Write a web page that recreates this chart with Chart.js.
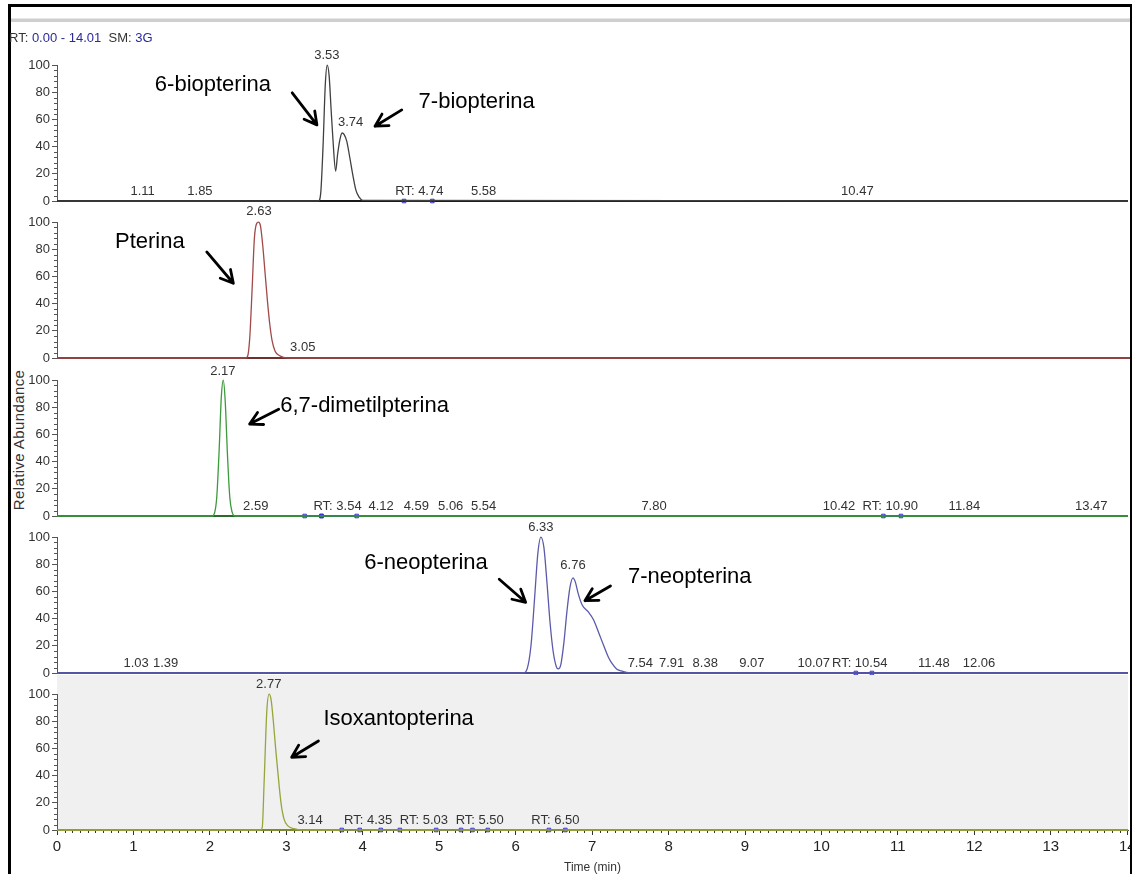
<!DOCTYPE html>
<html>
<head>
<meta charset="utf-8">
<script src="https://cdn.jsdelivr.net/npm/chart.js@4.4.0/dist/chart.umd.min.js"></script>
<style>
html,body{margin:0;padding:0;width:1132px;height:874px;overflow:hidden;background:#fff;position:relative;}
canvas{position:absolute;left:0;}
.frame{position:absolute;background:#000;z-index:20;}
#hdr{position:absolute;left:9px;top:30px;font:13px "Liberation Sans",Arial,sans-serif;color:#333;white-space:nowrap;z-index:21;}
#hdr .b{color:#2a2a9a;}
#ylab{position:absolute;left:18px;top:440px;transform:translate(-50%,-50%) rotate(-90deg);font:15px "Liberation Sans",Arial,sans-serif;letter-spacing:0.4px;color:#333;white-space:nowrap;}
#gline{position:absolute;left:11px;top:18px;width:1121px;height:3px;background:#cfcfcf;border-top:1px solid #e6e6e6;}
</style>
</head>
<body>
<div class="frame" style="left:8px;top:4px;width:1124px;height:3px;"></div>
<div class="frame" style="left:8px;top:4px;width:3px;height:870px;"></div>
<div class="frame" style="left:1130px;top:4px;width:2px;height:870px;"></div>
<div id="gline"></div>
<div id="hdr">RT: <span class="b">0.00 - 14.01</span>&nbsp;&nbsp;SM: <span class="b">3G</span></div>
<div id="ylab">Relative Abundance</div>
<canvas id="c1" width="1133" height="175"></canvas>
<canvas id="c2" width="1133" height="175"></canvas>
<canvas id="c3" width="1133" height="175"></canvas>
<canvas id="c4" width="1133" height="175"></canvas>
<canvas id="c5" width="1133" height="215"></canvas>
<script>
// ---------- data ----------
const xTickValues = [0,1,2,3,4,5,6,7,8,9,10,11,12,13,14];
const yTickValues = [0,20,40,60,80,100];
const timeMin = 0.00, timeMax = 14.01;

// 6-/7-biopterina
const bioTime  = [0, 3.42, 3.45, 3.48, 3.51, 3.535, 3.56, 3.585, 3.61, 3.645, 3.67, 3.70, 3.73, 3.755, 3.79, 3.83, 3.87, 3.91, 3.95, 4.00, 14.01];
const bioAbund = [0, 0, 6, 40, 86, 100, 92, 68, 45, 22, 34, 45, 50, 49, 44, 32, 19, 8, 3, 0.5, 0];
// Pterina
const pteTime  = [0, 2.45, 2.48, 2.51, 2.54, 2.57, 2.60, 2.625, 2.65, 2.68, 2.71, 2.74, 2.77, 2.80, 2.84, 2.89, 2.95, 3.05, 14.01];
const pteAbund = [0, 0, 1, 15, 50, 88, 99, 100, 97, 82, 62, 42, 25, 13, 5, 2, 0.5, 0, 0];
// 6,7-dimetilpterina
const dmpTime  = [0, 2.03, 2.06, 2.09, 2.12, 2.15, 2.175, 2.20, 2.23, 2.26, 2.29, 2.33, 14.01];
const dmpAbund = [0, 0, 2, 14, 47, 88, 100, 85, 45, 14, 3, 0, 0];
// 6-/7-neopterina
const neoTime  = [0, 6.10, 6.15, 6.20, 6.25, 6.29, 6.33, 6.37, 6.41, 6.45, 6.49, 6.53, 6.555, 6.59, 6.63, 6.67, 6.71, 6.75, 6.78, 6.82, 6.87, 6.95, 7.02, 7.09, 7.16, 7.21, 7.26, 7.32, 7.38, 7.45, 7.55, 14.01];
const neoAbund = [0, 0, 3, 20, 57, 88, 100, 92, 66, 37, 16, 5, 3, 6, 22, 45, 63, 70, 67, 58, 50, 45, 39, 29, 19, 12, 7, 3, 1.5, 0.5, 0, 0];
// Isoxantopterina
const isoTime  = [0, 2.66, 2.685, 2.71, 2.745, 2.775, 2.80, 2.83, 2.86, 2.89, 2.93, 2.97, 3.02, 3.10, 3.20, 14.01];
const isoAbund = [0, 0, 2, 36, 88, 100, 96, 80, 60, 42, 20, 8, 3, 1, 0, 0];

// RT window markers (pairs of times)
const bioRT = [[4.54, 4.91]];
const pteRT = [];
const dmpRT = [[3.24, 3.46], [3.46, 3.92], [10.81, 11.04]];
const neoRT = [[10.45, 10.66]];
const isoRT = [[3.725, 3.96], [4.235, 4.485], [4.96, 5.285], [5.435, 5.635], [6.435, 6.65]];

// peak labels (text) and their layout anchors [time, abundance]
const bioLabels = ['3.53','3.74','1.11','1.85','RT: 4.74','5.58','10.47'];
const bioLabelAt = [[3.53,107],[3.84,58],[1.12,7],[1.87,7],[4.74,7],[5.58,7],[10.47,7]];
const pteLabels = ['2.63','3.05'];
const pteLabelAt = [[2.63,108],[3.20,8]];
const dmpLabels = ['2.17','2.59','RT: 3.54','4.12','4.59','5.06','5.54','7.80','10.42','RT: 10.90','11.84','13.47'];
const dmpLabelAt = [[2.17,106],[2.60,7],[3.67,7],[4.24,7],[4.70,7],[5.15,7],[5.58,7],[7.81,7],[10.23,7],[10.90,7],[11.87,7],[13.53,7]];
const neoLabels = ['6.33','6.76','1.03','1.39','7.54','7.91','8.38','9.07','10.07','RT: 10.54','11.48','12.06'];
const neoLabelAt = [[6.33,107],[6.75,79],[1.035,7],[1.42,7],[7.63,7],[8.04,7],[8.48,7],[9.09,7],[9.90,7],[10.50,7],[11.47,7],[12.06,7]];
const isoLabels = ['2.77','3.14','RT: 4.35','RT: 5.03','RT: 5.50','RT: 6.50'];
const isoLabelAt = [[2.77,107],[3.31,7],[4.07,7],[4.80,7],[5.53,7],[6.52,7]];

// compound names and arrows (layout: [time, abundance])
const bioNames = ['6-biopterina','7-biopterina'];
const bioNameAt = [[1.28,85],[4.73,73]];
const bioArrows = [[[3.077,79.6],[3.40,56]], [[4.51,67],[4.16,55]]];
const pteNames = ['Pterina'];
const pteNameAt = [[0.755,85]];
const pteArrows = [[[1.95,78],[2.296,55]]];
const dmpNames = ['6,7-dimetilpterina'];
const dmpNameAt = [[2.92,81]];
const dmpArrows = [[[2.90,78.5],[2.52,67.6]]];
const neoNames = ['6-neopterina','7-neopterina'];
const neoNameAt = [[4.02,81],[7.47,70.6]];
const neoArrows = [[[5.785,69],[6.13,52]], [[7.24,64],[6.906,53.2]]];
const isoNames = ['Isoxantopterina'];
const isoNameAt = [[3.485,82]];
const isoArrows = [[[3.42,65.5],[3.07,53.5]]];

// ---------- rendering ----------
const FONT = '"Liberation Sans",Arial,sans-serif';
const PX_PER_UNIT = 1.36, YMAX = 114;

const decor = {
  id: 'decor',
  beforeDraw(chart, args, o) {
    const {ctx, chartArea: a} = chart;
    if (o.bg) {
      ctx.save(); ctx.fillStyle = o.bg;
      ctx.fillRect(a.left, a.top, a.right - a.left, a.bottom - a.top);
      ctx.restore();
    }
  },
  beforeDatasetsDraw(chart, args, o) {
    const {ctx, chartArea: a, scales: {x, y}} = chart;
    const y0 = y.getPixelForValue(0), y100 = y.getPixelForValue(100);
    ctx.save();
    ctx.strokeStyle = '#555'; ctx.lineWidth = 1;
    ctx.beginPath();
    ctx.moveTo(a.left + 0.5, Math.round(y100)); ctx.lineTo(a.left + 0.5, y0);
    for (let v = 0; v <= 100; v += 4) {
      if (v % 20 === 0) continue;
      const py = Math.round(y.getPixelForValue(v)) + 0.5;
      ctx.moveTo(a.left - 3, py); ctx.lineTo(a.left, py);
    }
    ctx.stroke();
    if (o.xMinor) {
      ctx.beginPath(); ctx.strokeStyle = '#333';
      for (let i = 1; i < 140; i++) {
        if (i % 10 === 0) continue;
        const px = Math.round(x.getPixelForValue(i / 10)) + 0.5;
        ctx.moveTo(px, y0); ctx.lineTo(px, y0 + 3);
      }
      ctx.stroke();
    }
    ctx.beginPath(); ctx.strokeStyle = o.axisColor; ctx.lineWidth = 1.8;
    ctx.moveTo(a.left, y0); ctx.lineTo(a.right, y0); ctx.stroke();
    ctx.restore();
  },
  afterDatasetsDraw(chart, args, o) {
    const {ctx, scales: {x, y}} = chart;
    ctx.save();
    ctx.fillStyle = '#333'; ctx.font = '13px ' + FONT;
    ctx.textAlign = 'center'; ctx.textBaseline = 'middle';
    o.labels.forEach((t, i) => {
      const [tx, ty] = o.labelAt[i];
      ctx.fillText(t, x.getPixelForValue(tx), y.getPixelForValue(ty));
    });
    ctx.fillStyle = '#000'; ctx.font = '22px ' + FONT;
    ctx.textAlign = 'left';
    o.names.forEach((t, i) => {
      const [tx, ty] = o.nameAt[i];
      ctx.fillText(t, x.getPixelForValue(tx), y.getPixelForValue(ty));
    });
    ctx.strokeStyle = '#000'; ctx.lineWidth = 2.8; ctx.lineCap = 'round'; ctx.lineJoin = 'round';
    o.arrows.forEach(([p1, p2]) => {
      const x1 = x.getPixelForValue(p1[0]), y1 = y.getPixelForValue(p1[1]);
      const x2 = x.getPixelForValue(p2[0]), y2 = y.getPixelForValue(p2[1]);
      const ang = Math.atan2(y2 - y1, x2 - x1), L = 14, w = 0.5;
      ctx.beginPath();
      ctx.moveTo(x1, y1); ctx.lineTo(x2, y2);
      ctx.moveTo(x2 - L * Math.cos(ang - w), y2 - L * Math.sin(ang - w));
      ctx.lineTo(x2, y2);
      ctx.lineTo(x2 - L * Math.cos(ang + w), y2 - L * Math.sin(ang + w));
      ctx.stroke();
    });
    ctx.restore();
  }
};

function rtData(pairs) {
  const out = [];
  pairs.forEach(([a, b]) => {
    out.push({x: a, y: 0}, {x: b, y: 0}, {x: (a + b) / 2, y: null});
  });
  return out;
}

function makePanel(id, baseline, bottom, cfg) {
  const canvas = document.getElementById(id);
  const padTop = 10;
  const areaH = YMAX * PX_PER_UNIT;
  canvas.style.top = (baseline - areaH - padTop) + 'px';
  const xScale = bottom ? {
    type: 'linear', min: timeMin, max: timeMax,
    afterBuildTicks: s => { s.ticks = xTickValues.map(v => ({value: v})); },
    ticks: {font: {size: 15, family: FONT}, color: '#222', padding: 3, maxRotation: 0, autoSkip: false},
    grid: {drawOnChartArea: false, drawTicks: true, tickLength: 5, tickColor: '#333'},
    border: {display: true, color: '#444'},
    title: {display: true, text: 'Time (min)', font: {size: 12, family: FONT}, color: '#333', padding: {top: 0, bottom: 5}},
    afterFit: s => { s.height = 50; s.paddingLeft = 0; s.paddingRight = 0; }
  } : {type: 'linear', min: timeMin, max: timeMax, display: false};
  return new Chart(canvas, {
    type: 'line',
    data: {
      datasets: [
        {
          data: cfg.time.map((t, i) => ({x: t, y: cfg.abund[i]})),
          borderColor: cfg.color, borderWidth: 1.3, pointRadius: 0,
          cubicInterpolationMode: 'monotone', clip: 4, fill: false
        },
        {
          data: rtData(cfg.rt), borderColor: '#2b2bd0', borderWidth: 1,
          pointStyle: 'rect', pointRadius: 2.5, pointBorderColor: '#2b2bd0',
          pointBackgroundColor: 'rgba(255,255,255,0)', pointBorderWidth: 1,
          spanGaps: false, clip: 4
        }
      ]
    },
    options: {
      responsive: false, animation: false, devicePixelRatio: 1,
      layout: {padding: {top: padTop, bottom: bottom ? 0 : 10, left: 0, right: 0}},
      plugins: {
        legend: {display: false}, tooltip: {enabled: false},
        decor: {
          bg: cfg.bg, axisColor: cfg.axisColor, xMinor: bottom,
          labels: cfg.labels, labelAt: cfg.labelAt,
          names: cfg.names, nameAt: cfg.nameAt, arrows: cfg.arrows
        }
      },
      scales: {
        x: xScale,
        y: {
          type: 'linear', min: 0, max: YMAX,
          afterBuildTicks: s => { s.ticks = yTickValues.map(v => ({value: v})); },
          ticks: {font: {size: 13, family: FONT}, color: '#333', padding: 2},
          grid: {drawOnChartArea: false, drawTicks: true, tickLength: 5, tickColor: '#555'},
          border: {display: false},
          afterFit: s => { s.width = 57; s.paddingTop = 0; s.paddingBottom = 0; }
        }
      }
    },
    plugins: [decor]
  });
}

makePanel('c1', 201, false, {time: bioTime, abund: bioAbund, color: '#404040', axisColor: '#1a1a1a', rt: bioRT,
  labels: bioLabels, labelAt: bioLabelAt, names: bioNames, nameAt: bioNameAt, arrows: bioArrows});
makePanel('c2', 358, false, {time: pteTime, abund: pteAbund, color: '#a04a4a', axisColor: '#6e2f2f', rt: pteRT,
  labels: pteLabels, labelAt: pteLabelAt, names: pteNames, nameAt: pteNameAt, arrows: pteArrows});
makePanel('c3', 516, false, {time: dmpTime, abund: dmpAbund, color: '#3c9a3c', axisColor: '#2c6a2c', rt: dmpRT,
  labels: dmpLabels, labelAt: dmpLabelAt, names: dmpNames, nameAt: dmpNameAt, arrows: dmpArrows});
makePanel('c4', 673, false, {time: neoTime, abund: neoAbund, color: '#5a5aaa', axisColor: '#4a4a8e', rt: neoRT,
  labels: neoLabels, labelAt: neoLabelAt, names: neoNames, nameAt: neoNameAt, arrows: neoArrows});
makePanel('c5', 830, true, {time: isoTime, abund: isoAbund, color: '#98a43c', axisColor: '#7d8a30', rt: isoRT, bg: '#f0f0f0',
  labels: isoLabels, labelAt: isoLabelAt, names: isoNames, nameAt: isoNameAt, arrows: isoArrows});
</script>
</body>
</html>
